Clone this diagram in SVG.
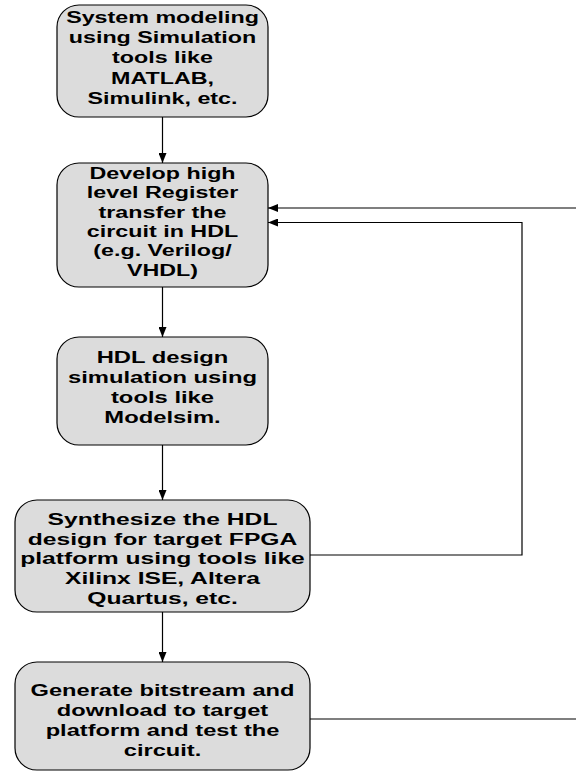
<svg xmlns="http://www.w3.org/2000/svg" width="576" height="774" viewBox="0 0 576 774">
  <defs>
    <marker id="arrow" viewBox="0 0 10 8" refX="10" refY="4" markerWidth="10" markerHeight="8" markerUnits="userSpaceOnUse" orient="auto">
      <path d="M0,0 L10,4 L0,8 Z" fill="#000"/>
    </marker>
    <style>
      .box { fill: #dcdcdc; stroke: #000; stroke-width: 1.2; }
      .lbl { font-family: "Liberation Sans", Arial, sans-serif; font-weight: bold; font-size: 17px; text-anchor: middle; fill: #000; }
      .flow { fill: none; stroke: #000; stroke-width: 1.2; }
    </style>
  </defs>
  <rect width="576" height="774" fill="#fff"/>

  <!-- process steps -->
  <g id="step-modeling">
    <rect class="box" x="57" y="5" width="211" height="112" rx="22" ry="22"/>
    <g transform="translate(162.5,0) scale(1.37,1)">
      <text class="lbl" x="0" y="23">System modeling</text>
      <text class="lbl" x="0" y="43.5">using Simulation</text>
      <text class="lbl" x="0" y="63.5">tools like</text>
      <text class="lbl" x="0" y="84">MATLAB,</text>
      <text class="lbl" x="0" y="104">Simulink, etc.</text>
    </g>
  </g>

  <g id="step-rtl">
    <rect class="box" x="57" y="163" width="211" height="124" rx="22" ry="22"/>
    <g transform="translate(162.5,0) scale(1.37,1)">
      <text class="lbl" x="0" y="179.5">Develop high</text>
      <text class="lbl" x="0" y="198.5">level Register</text>
      <text class="lbl" x="0" y="218.5">transfer the</text>
      <text class="lbl" x="0" y="237.5">circuit in HDL</text>
      <text class="lbl" x="0" y="256.5">(e.g. Verilog/</text>
      <text class="lbl" x="0" y="276.5">VHDL)</text>
    </g>
  </g>

  <g id="step-simulation">
    <rect class="box" x="57" y="337" width="211" height="108" rx="22" ry="22"/>
    <g transform="translate(162.5,0) scale(1.4,1)">
      <text class="lbl" x="0" y="363.5">HDL design</text>
      <text class="lbl" x="0" y="383.5">simulation using</text>
      <text class="lbl" x="0" y="403.5">tools like</text>
      <text class="lbl" x="0" y="423.5">Modelsim.</text>
    </g>
  </g>

  <g id="step-synthesis">
    <rect class="box" x="15" y="500" width="295" height="112" rx="22" ry="22"/>
    <g transform="translate(162.5,0) scale(1.45,1)">
      <text class="lbl" x="0" y="525.5">Synthesize the HDL</text>
      <text class="lbl" x="0" y="545.5">design for target FPGA</text>
      <text class="lbl" x="0" y="564.5">platform using tools like</text>
      <text class="lbl" x="0" y="584.5">Xilinx ISE, Altera</text>
      <text class="lbl" x="0" y="604.5">Quartus, etc.</text>
    </g>
  </g>

  <g id="step-bitstream">
    <rect class="box" x="15" y="662" width="295" height="108" rx="22" ry="22"/>
    <g transform="translate(162.5,0) scale(1.39,1)">
      <text class="lbl" x="0" y="696.5">Generate bitstream and</text>
      <text class="lbl" x="0" y="716.5">download to target</text>
      <text class="lbl" x="0" y="736.5">platform and test the</text>
      <text class="lbl" x="0" y="756.5">circuit.</text>
    </g>
  </g>

  <!-- connectors -->
  <g id="connectors">
    <line class="flow" x1="162.5" y1="117" x2="162.5" y2="163" marker-end="url(#arrow)"/>
    <line class="flow" x1="162.5" y1="287" x2="162.5" y2="337" marker-end="url(#arrow)"/>
    <line class="flow" x1="162.5" y1="445" x2="162.5" y2="500" marker-end="url(#arrow)"/>
    <line class="flow" x1="162.5" y1="612" x2="162.5" y2="662" marker-end="url(#arrow)"/>
    <!-- feedback from synthesis back to RTL -->
    <polyline class="flow" stroke="#555" points="310,555 522,555 522,222.5 268,222.5" marker-end="url(#arrow)"/>
    <!-- feedback from board test back to RTL -->
    <line class="flow" x1="576" y1="208" x2="268" y2="208" marker-end="url(#arrow)"/>
    <line class="flow" stroke="#777" x1="310" y1="719" x2="576" y2="719"/>
  </g>
</svg>
